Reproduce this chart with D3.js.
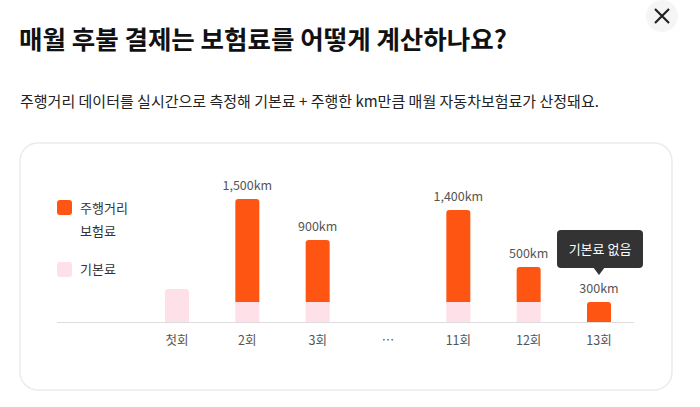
<!DOCTYPE html><html><head><meta charset="utf-8"><script src="https://d3js.org/d3.v7.min.js"></script>
<style>body{margin:0;background:#fff;font-family:"Noto Sans CJK KR","Noto Sans",sans-serif}</style></head><body>
<script>
const categories=["첫회","2회","3회","…","11회","12회","13회"];
const baseFee=[33,20,20,0,20,20,0];
const usageFee=[0,103,62,0,92,35,20];
const distLabels=["","1,500km","900km","","1,400km","500km","300km"];
const W=700,H=407;
const svg=d3.select("body").append("svg").attr("width",W).attr("height",H);
const f='"Noto Sans CJK KR",sans-serif';
svg.append("text").attr("x",19).attr("y",49).attr("font-family",f).attr("font-size",25.5).attr("font-weight",700).attr("fill","#111").text("매월 후불 결제는 보험료를 어떻게 계산하나요?");
svg.append("text").attr("x",20).attr("y",107).attr("font-family",f).attr("font-size",15).attr("fill","#222").text("주행거리 데이터를 실시간으로 측정해 기본료 + 주행한 km만큼 매월 자동차보험료가 산정돼요.");
svg.append("circle").attr("cx",662).attr("cy",16).attr("r",16).attr("fill","#f5f5f5");
svg.append("path").attr("d","M655,9L669,23M669,9L655,23").attr("stroke","#222").attr("stroke-width",2.2);
svg.append("rect").attr("x",20).attr("y",143).attr("width",652).attr("height",247).attr("rx",18).attr("fill","#fff").attr("stroke","#ebebeb").attr("stroke-width",1.5);
svg.append("rect").attr("x",57).attr("y",200).attr("width",15).attr("height",15).attr("rx",3).attr("fill","#ff5512");
svg.append("text").attr("x",80).attr("y",213).attr("font-family",f).attr("font-size",13).attr("fill","#333").text("주행거리");
svg.append("text").attr("x",80).attr("y",236).attr("font-family",f).attr("font-size",13).attr("fill","#333").text("보험료");
svg.append("rect").attr("x",57).attr("y",262).attr("width",15).attr("height",15).attr("rx",3).attr("fill","#fde0e8");
svg.append("text").attr("x",80).attr("y",274).attr("font-family",f).attr("font-size",13).attr("fill","#333").text("기본료");
const x=d3.scalePoint().domain(categories).range([177,599]);
const y=d3.scaleLinear().domain([0,125]).range([322,197]);
const bw=24;
svg.append("line").attr("x1",57).attr("x2",634).attr("y1",322.5).attr("y2",322.5).attr("stroke","#ddd");
categories.forEach((c,i)=>{
  const cx=x(c);
  if(baseFee[i]>0){
    const top=y(baseFee[i]);
    svg.append("path").attr("d",usageFee[i]>0?`M${cx-bw/2},${top}H${cx+bw/2}V322H${cx-bw/2}Z`:`M${cx-bw/2},322V${top+3}Q${cx-bw/2},${top} ${cx-bw/2+3},${top}H${cx+bw/2-3}Q${cx+bw/2},${top} ${cx+bw/2},${top+3}V322Z`).attr("fill","#fde0e8");
  }
  if(usageFee[i]>0){
    const b=y(baseFee[i]),t=y(baseFee[i]+usageFee[i]);
    svg.append("path").attr("d",`M${cx-bw/2},${b}V${t+3}Q${cx-bw/2},${t} ${cx-bw/2+3},${t}H${cx+bw/2-3}Q${cx+bw/2},${t} ${cx+bw/2},${t+3}V${b}Z`).attr("fill","#ff5512");
    svg.append("text").attr("x",cx).attr("y",t-9).attr("text-anchor","middle").attr("font-family",f).attr("font-size",12.5).attr("fill","#555").text(distLabels[i]);
  }
  svg.append("text").attr("x",cx).attr("y",345).attr("text-anchor","middle").attr("font-family",f).attr("font-size",12.5).attr("fill","#555").text(c);
});
const tx=x("13회");
svg.append("rect").attr("x",tx-42).attr("y",230).attr("width",86).attr("height",38).attr("rx",4).attr("fill","#333");
svg.append("path").attr("d",`M${tx-6},267L${tx},275L${tx+6},267Z`).attr("fill","#333");
svg.append("text").attr("x",tx+1).attr("y",254).attr("text-anchor","middle").attr("font-family",f).attr("font-size",13).attr("fill","#fff").text("기본료 없음");
</script></body></html>
